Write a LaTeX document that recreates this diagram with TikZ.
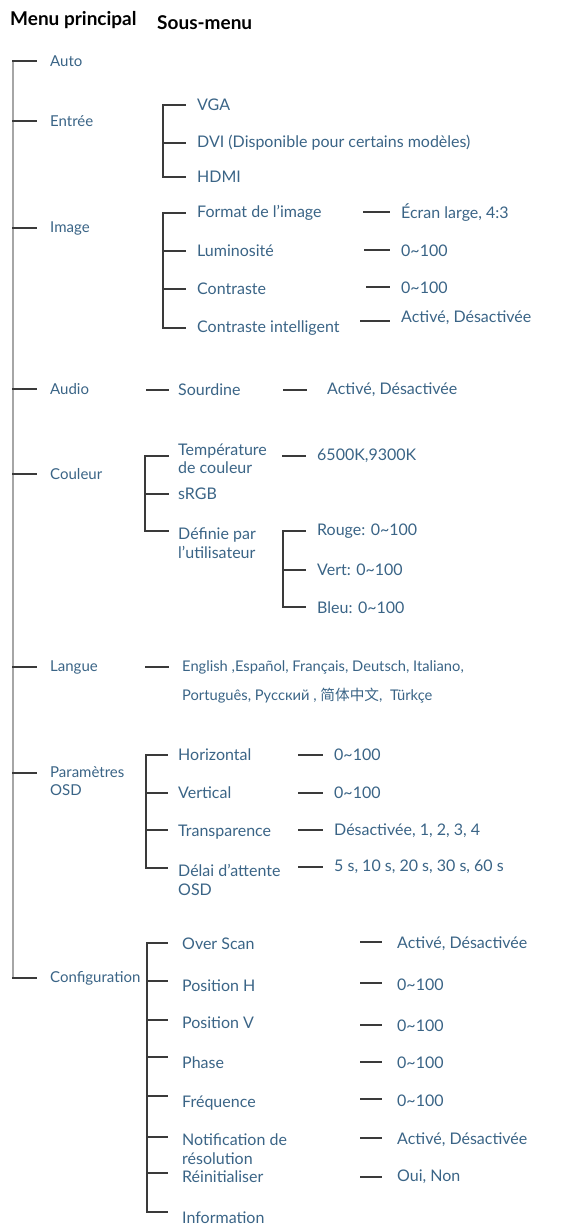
\documentclass[tikz,border=0pt]{standalone}
\usepackage{fontspec}
\setmainfont{Lato}
\newfontfamily\cjkfont{Noto Sans CJK SC}
\usetikzlibrary{positioning}
\definecolor{menublue}{RGB}{58,100,134}
\definecolor{tickgray}{RGB}{58,58,58}
\tikzset{
	menunode/.style={anchor=west, inner sep=0pt, text=menublue, align=left, font=\fontsize{16}{18.5}\selectfont},
	mainnode/.style={menunode, font=\fontsize{15}{18}\selectfont},
	headnode/.style={anchor=west, inner sep=0pt, font=\fontsize{19}{21}\selectfont\bfseries},
	tick/.style={draw=tickgray, line width=2.2pt, line cap=rect},
	spine/.style={draw=gray!70, line width=2.5pt}
}
\begin{document}
\begin{tikzpicture}[x=1pt, y=-1pt]
		\useasboundingbox (0,0) rectangle (582,1226);
		% headers
		\node[headnode] at (10,20) (hmain) {Menu principal};
		\node[headnode] at (157,23) (hsub) {Sous-menu};
		
		% main menu
		\node[mainnode] at (50,61) (auto) {Auto};
		\node[mainnode] at (50,121) (entree) {Entrée};
		\node[mainnode] at (50,228) (image) {Image};
		\node[mainnode] at (50,389) (audio) {Audio};
		\node[mainnode] at (50,474) (couleur) {Couleur};
		\node[mainnode] at (50,667) (langue) {Langue};
		\node[mainnode] at (50,781) (osd) {Paramètres\\OSD};
		\node[mainnode] at (50,978) (config) {Configuration};
		\coordinate (m1) at (13,61);
		\coordinate (m2) at (13,121);
		\coordinate (m3) at (13,228);
		\coordinate (m4) at (13,389);
		\coordinate (m5) at (13,474);
		\coordinate (m6) at (13,667);
		\coordinate (m7) at (13,773);
		\coordinate (m8) at (13,978);
		\draw[spine] (m1) -- (m8);
		\draw[tick, shorten >=14pt] (m1) -- (m1 -| auto.west);
		\draw[tick, shorten >=14pt] (m2) -- (m2 -| entree.west);
		\draw[tick, shorten >=14pt] (m3) -- (m3 -| image.west);
		\draw[tick, shorten >=14pt] (m4) -- (m4 -| audio.west);
		\draw[tick, shorten >=14pt] (m5) -- (m5 -| couleur.west);
		\draw[tick, shorten >=14pt] (m6) -- (m6 -| langue.west);
		\draw[tick, shorten >=14pt] (m7) -- (m7 -| osd.west);
		\draw[tick, shorten >=14pt] (m8) -- (m8 -| config.west);
		
		% Entree
		\node[menunode] at (197,105) (vga) {VGA};
		\node[menunode] at (197,143) (dvi) {DVI (Disponible pour certains modèles)};
		\node[menunode] at (197,177) (hdmi) {HDMI};
		\coordinate (e1) at (163,105);
		\coordinate (e2) at (163,143);
		\coordinate (e3) at (163,177);
		\draw[tick] (e1) -- (e3);
		\draw[tick, shorten >=12pt] (e1) -- (e1 -| vga.west);
		\draw[tick, shorten >=12pt] (e2) -- (e2 -| dvi.west);
		\draw[tick, shorten >=12pt] (e3) -- (e3 -| hdmi.west);
		
		% Image
		\node[menunode] at (197,213) (format) {Format de l'image};
		\node[menunode] at (197,251) (lumi) {Luminosité};
		\node[menunode] at (197,289) (contr) {Contraste};
		\node[menunode] at (197,328) (smart) {Contraste intelligent};
		\coordinate (i1) at (163,213);
		\coordinate (i2) at (163,251);
		\coordinate (i3) at (163,289);
		\coordinate (i4) at (163,328);
		\draw[tick] (i1) -- (i4);
		\draw[tick, shorten >=12pt] (i1) -- (i1 -| format.west);
		\draw[tick, shorten >=12pt] (i2) -- (i2 -| lumi.west);
		\draw[tick, shorten >=12pt] (i3) -- (i3 -| contr.west);
		\draw[tick, shorten >=12pt] (i4) -- (i4 -| smart.west);
		\node[menunode] at (401,213) (formatv) {Écran large, 4:3};
		\node[menunode] at (401,251) (lumiv) {0\textasciitilde 100};
		\node[menunode] at (401,288) (contrv) {0\textasciitilde 100};
		\node[menunode] at (401,318) (smartv) {Activé, Désactivée};
		\coordinate (iv1) at (364,212);
		\coordinate (iv2) at (365,250);
		\coordinate (iv3) at (367,287);
		\coordinate (iv4) at (361,321);
		\draw[tick, shorten >=12pt] (iv1) -- (iv1 -| formatv.west);
		\draw[tick, shorten >=12pt] (iv2) -- (iv2 -| lumiv.west);
		\draw[tick, shorten >=12pt] (iv3) -- (iv3 -| contrv.west);
		\draw[tick, shorten >=12pt] (iv4) -- (iv4 -| smartv.west);
		
		% Audio
		\node[menunode] at (178,390) (sourd) {Sourdine};
		\node[menunode] at (327,390) (sourdv) {Activé, Désactivée};
		\coordinate (a1) at (147,390);
		\coordinate (av1) at (284,390);
		\draw[tick, shorten >=10pt] (a1) -- (a1 -| sourd.west);
		\draw[tick, shorten >=21pt] (av1) -- (av1 -| sourdv.west);
		
		% Couleur
		\node[menunode] at (178,459) (temp) {Température\\de couleur};
		\node[menunode] at (178,494) (srgb) {sRGB};
		\node[menunode] at (178,543) (user) {Définie par\\l'utilisateur};
		\coordinate (c1) at (145,456);
		\coordinate (c2) at (145,494);
		\coordinate (c3) at (145,531);
		\draw[tick] (c1) -- (c3);
		\draw[tick, shorten >=10pt] (c1) -- (c1 -| temp.west);
		\draw[tick, shorten >=10pt] (c2) -- (c2 -| srgb.west);
		\draw[tick, shorten >=10pt] (c3) -- (c3 -| user.west);
		\node[menunode] at (317,456) (tempv) {6500K,9300K};
		\coordinate (cv1) at (283,456);
		\draw[tick, shorten >=12pt] (cv1) -- (cv1 -| tempv.west);
		\node[menunode] at (317,531) (rouge) {Rouge: 0\textasciitilde 100};
		\node[menunode] at (317,570) (vert) {Vert: 0\textasciitilde 100};
		\node[menunode] at (317,608) (bleu) {Bleu: 0\textasciitilde 100};
		\coordinate (u1) at (283,531);
		\coordinate (u2) at (283,570);
		\coordinate (u3) at (283,607);
		\draw[tick] (u1) -- (u3);
		\draw[tick, shorten >=12pt] (u1) -- (u1 -| rouge.west);
		\draw[tick, shorten >=12pt] (u2) -- (u2 -| vert.west);
		\draw[tick, shorten >=12pt] (u3) -- (u3 -| bleu.west);
		
		% Langue
		\node[menunode, font=\fontsize{14.7}{29}\selectfont] at (182,682) (langv) {English ,Español, Français, Deutsch, Italiano,\\Português, Русский , {\cjkfont 简体中文}, \ Türkçe};
		\coordinate (l1) at (146,667);
		\draw[tick, shorten >=14pt] (l1) -- (l1 -| langv.west);
		
		% Parametres OSD
		\node[menunode] at (178,755) (horiz) {Horizontal};
		\node[menunode] at (178,793) (verti) {Vertical};
		\node[menunode] at (178,832) (transp) {Transparence};
		\node[menunode] at (178,880) (delai) {Délai d'attente\\OSD};
		\coordinate (o1) at (146,755);
		\coordinate (o2) at (146,793);
		\coordinate (o3) at (146,830);
		\coordinate (o4) at (146,868);
		\draw[tick] (o1) -- (o4);
		\draw[tick, shorten >=11pt] (o1) -- (o1 -| horiz.west);
		\draw[tick, shorten >=11pt] (o2) -- (o2 -| verti.west);
		\draw[tick, shorten >=11pt] (o3) -- (o3 -| transp.west);
		\draw[tick, shorten >=11pt] (o4) -- (o4 -| delai.west);
		\node[menunode] at (334,755) (horizv) {0\textasciitilde 100};
		\node[menunode] at (334,793) (vertiv) {0\textasciitilde 100};
		\node[menunode] at (334,831) (transpv) {Désactivée, 1, 2, 3, 4};
		\node[menunode] at (334,867) (delaiv) {5 s, 10 s, 20 s, 30 s, 60 s};
		\coordinate (ov1) at (299,755);
		\coordinate (ov2) at (299,793);
		\coordinate (ov3) at (299,830);
		\coordinate (ov4) at (299,867);
		\draw[tick, shorten >=12pt] (ov1) -- (ov1 -| horizv.west);
		\draw[tick, shorten >=12pt] (ov2) -- (ov2 -| vertiv.west);
		\draw[tick, shorten >=12pt] (ov3) -- (ov3 -| transpv.west);
		\draw[tick, shorten >=12pt] (ov4) -- (ov4 -| delaiv.west);
		
		% Configuration
		\node[menunode] at (182,944) (overscan) {Over Scan};
		\node[menunode] at (182,986) (posh) {Position H};
		\node[menunode] at (182,1023) (posv) {Position V};
		\node[menunode] at (182,1063) (phase) {Phase};
		\node[menunode] at (182,1103) (freq) {Fréquence};
		\node[menunode] at (182,1149) (notif) {Notification de\\résolution};
		\node[menunode] at (182,1177) (reinit) {Réinitialiser};
		\node[menunode] at (182,1218) (info) {Information};
		\coordinate (k1) at (147,943);
		\coordinate (k2) at (147,981);
		\coordinate (k3) at (147,1020);
		\coordinate (k4) at (147,1057);
		\coordinate (k5) at (147,1096);
		\coordinate (k6) at (147,1137);
		\coordinate (k7) at (147,1173);
		\coordinate (k8) at (147,1212);
		\draw[tick] (k1) -- (k8);
		\draw[tick, shorten >=15pt] (k1) -- (k1 -| overscan.west);
		\draw[tick, shorten >=15pt] (k2) -- (k2 -| posh.west);
		\draw[tick, shorten >=15pt] (k3) -- (k3 -| posv.west);
		\draw[tick, shorten >=15pt] (k4) -- (k4 -| phase.west);
		\draw[tick, shorten >=15pt] (k5) -- (k5 -| freq.west);
		\draw[tick, shorten >=15pt] (k6) -- (k6 -| notif.west);
		\draw[tick, shorten >=15pt] (k7) -- (k7 -| reinit.west);
		\draw[tick, shorten >=15pt] (k8) -- (k8 -| info.west);
		\node[menunode] at (397,944) (overscanv) {Activé, Désactivée};
		\node[menunode] at (397,985) (poshv) {0\textasciitilde 100};
		\node[menunode] at (397,1026) (posvv) {0\textasciitilde 100};
		\node[menunode] at (397,1063) (phasev) {0\textasciitilde 100};
		\node[menunode] at (397,1101) (freqv) {0\textasciitilde 100};
		\node[menunode] at (397,1140) (notifv) {Activé, Désactivée};
		\node[menunode] at (397,1177) (reinitv) {Oui, Non};
		\coordinate (kv1) at (361,942);
		\coordinate (kv2) at (361,983);
		\coordinate (kv3) at (361,1025);
		\coordinate (kv4) at (361,1062);
		\coordinate (kv5) at (361,1099);
		\coordinate (kv6) at (361,1138);
		\coordinate (kv7) at (361,1177);
		\draw[tick, shorten >=16pt] (kv1) -- (kv1 -| overscanv.west);
		\draw[tick, shorten >=16pt] (kv2) -- (kv2 -| poshv.west);
		\draw[tick, shorten >=16pt] (kv3) -- (kv3 -| posvv.west);
		\draw[tick, shorten >=16pt] (kv4) -- (kv4 -| phasev.west);
		\draw[tick, shorten >=16pt] (kv5) -- (kv5 -| freqv.west);
		\draw[tick, shorten >=16pt] (kv6) -- (kv6 -| notifv.west);
		\draw[tick, shorten >=16pt] (kv7) -- (kv7 -| reinitv.west);
	\end{tikzpicture}
\end{document}
